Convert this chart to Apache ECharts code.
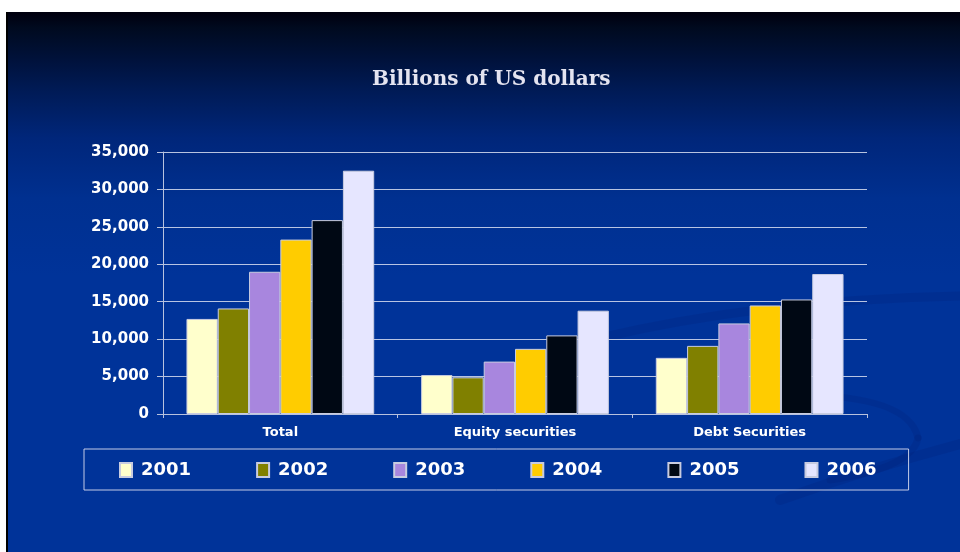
<!DOCTYPE html>
<html>
<head>
<meta charset="utf-8">
<script src="https://cdn.jsdelivr.net/npm/echarts@6/dist/echarts.min.js"></script>
<style>
html,body{margin:0;padding:0;background:#ffffff;}
#chart{width:960px;height:552px;}
</style>
</head>
<body>
<div id="chart"></div>
<script>
// ---- data ----
var categories = ['Total', 'Equity securities', 'Debt Securities'];
var years = ['2001', '2002', '2003', '2004', '2005', '2006'];
var v2001 = [12700, 5200, 7500];
var v2002 = [14100, 4900, 9100];
var v2003 = [19000, 7000, 12100];
var v2004 = [23300, 8700, 14500];
var v2005 = [25900, 10500, 15300];
var v2006 = [32500, 13800, 18700];
var yTicks = [0, 5000, 10000, 15000, 20000, 25000, 30000, 35000];
var titleText = 'Billions of US dollars';

var seriesValues = [v2001, v2002, v2003, v2004, v2005, v2006];
var colors = ['#ffffcc', '#808000', '#a886de', '#ffcc00', '#000814', '#e6e6ff'];

var chart = echarts.init(document.getElementById('chart'), null, {renderer: 'canvas'});

var sansBold = {fontFamily: 'DejaVu Sans', fontWeight: 'bold', color: '#ffffff'};

var series = years.map(function (y, i) {
  return {
    name: y,
    type: 'bar',
    data: seriesValues[i],
    barGap: '0%',
    barCategoryGap: '20%',
    itemStyle: {color: colors[i], borderColor: '#c8cce0', borderWidth: 1}
  };
});

function swoosh(w) {
  return {stroke: 'rgba(0,30,110,0.18)', fill: null, lineWidth: w, lineCap: 'round'};
}

var option = {
  backgroundColor: {
    type: 'linear', x: 0, y: 0, x2: 0, y2: 1,
    colorStops: [
      {offset: 0.0, color: '#000008'},
      {offset: 0.025, color: '#00000f'},
      {offset: 0.05, color: '#000a1f'},
      {offset: 0.11, color: '#00123c'},
      {offset: 0.16, color: '#001a54'},
      {offset: 0.25, color: '#00267a'},
      {offset: 0.36, color: '#003090'},
      {offset: 0.5, color: '#003399'},
      {offset: 1, color: '#003399'}
    ]
  },
  title: {
    text: titleText,
    left: 372,
    top: 70,
    padding: 0,
    textStyle: {fontFamily: 'DejaVu Serif', fontWeight: 'bold', fontSize: 20, color: '#e4e4f0'}
  },
  legend: {
    data: years,
    left: 84,
    top: 449,
    orient: 'horizontal',
    padding: [12, 32, 11, 35],
    itemGap: 65,
    itemWidth: 12,
    itemHeight: 14,
    icon: 'rect',
    borderColor: 'rgba(205,212,235,0.95)',
    borderWidth: 1,
    textStyle: {fontFamily: 'DejaVu Sans', fontWeight: 'bold', fontSize: 18, color: '#ffffff', padding: [0, 0, 0, 4]}
  },
  grid: {left: 163, right: 93, top: 152, bottom: 138, containLabel: false},
  xAxis: {
    type: 'category',
    data: categories,
    axisLine: {show: true, lineStyle: {color: '#b8c2de', width: 1}},
    axisTick: {show: true, length: 4, lineStyle: {color: '#b8c2de'}},
    axisLabel: Object.assign({fontSize: 13, margin: 12}, sansBold),
    splitLine: {show: false}
  },
  yAxis: {
    type: 'value',
    min: yTicks[0],
    max: yTicks[yTicks.length - 1],
    interval: yTicks[1] - yTicks[0],
    axisLine: {show: true, lineStyle: {color: '#b8c2de', width: 1}},
    axisTick: {show: true, length: 6, lineStyle: {color: '#b8c2de'}},
    axisLabel: Object.assign({fontSize: 15, margin: 14, formatter: function (v) { return v.toLocaleString('en-US'); }}, sansBold),
    splitLine: {show: true, lineStyle: {color: 'rgba(215,222,240,0.85)', width: 1}}
  },
  graphic: [
    {type: 'bezierCurve', shape: {x1: 600, y1: 338, cpx1: 760, cpy1: 300, x2: 960, y2: 296}, style: swoosh(9), z: -5, silent: true},
    {type: 'bezierCurve', shape: {x1: 690, y1: 402, cpx1: 905, cpy1: 378, x2: 918, y2: 438}, style: swoosh(7), z: -5, silent: true},
    {type: 'bezierCurve', shape: {x1: 918, y1: 438, cpx1: 912, cpy1: 468, x2: 830, y2: 480}, style: swoosh(7), z: -5, silent: true},
    {type: 'bezierCurve', shape: {x1: 780, y1: 500, cpx1: 870, cpy1: 468, x2: 960, y2: 444}, style: swoosh(10), z: -5, silent: true},
    {type: 'rect', shape: {x: 0, y: 0, width: 960, height: 12}, style: {fill: '#ffffff'}, z: 100, silent: true},
    {type: 'rect', shape: {x: 0, y: 0, width: 6, height: 552}, style: {fill: '#ffffff'}, z: 100, silent: true},
    {type: 'rect', shape: {x: 6, y: 12, width: 2, height: 540}, style: {fill: '#000000'}, z: 100, silent: true}
  ],
  series: series
};

chart.setOption(option);
</script>
</body>
</html>
